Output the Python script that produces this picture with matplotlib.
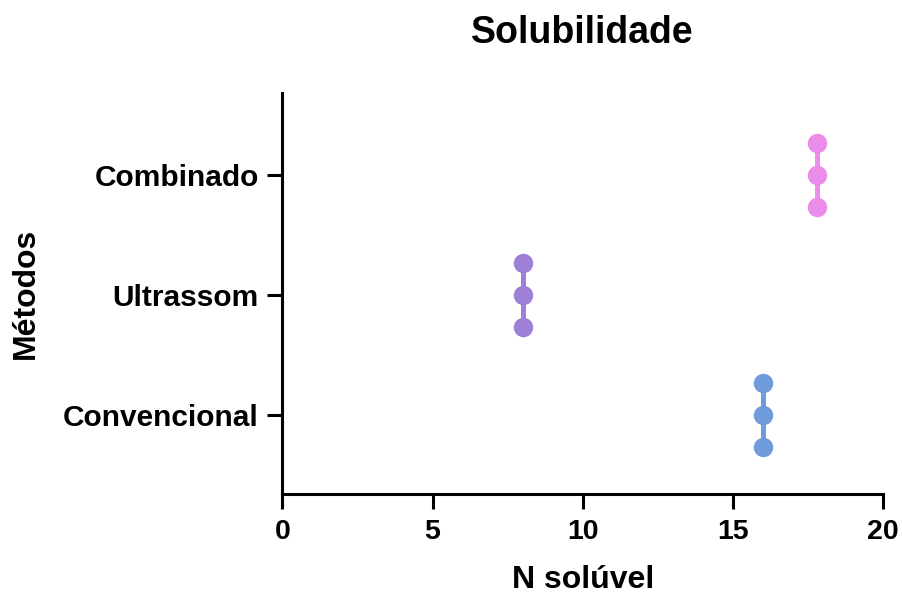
import matplotlib.pyplot as plt

metodos = ["Convencional", "Ultrassom", "Combinado"]
n_soluvel = [
    [16.0, 16.0, 16.0],
    [8.0, 8.0, 8.0],
    [17.8, 17.8, 17.8],
]
cores = ["#6F9ADB", "#9E7FD8", "#EA8CEA"]
xticks = [0, 5, 10, 15, 20]

plt.rcParams["font.family"] = ["Liberation Sans", "DejaVu Sans"]
plt.rcParams["font.weight"] = "bold"

fig = plt.figure(figsize=(9.02, 5.97), dpi=100)
ax = fig.add_axes([0.3131, 0.1717, 0.6659, 0.6725])

offsets = [-0.267, 0.0, 0.267]
for i, (vals, cor) in enumerate(zip(n_soluvel, cores)):
    ys = [i + o for o in offsets]
    media = sum(vals) / len(vals)
    ax.plot([media, media], [ys[0], ys[-1]], color=cor, lw=3.6, zorder=2)
    ax.plot(vals, ys, "o", color=cor, ms=14, mec="none", zorder=3)

ax.set_xlim(0, 20)
ax.set_ylim(-0.6625, 2.683)
ax.set_xticks(xticks)
ax.set_yticks(range(len(metodos)))
ax.set_yticklabels(metodos, fontsize=21.5, fontweight="bold")
ax.set_xticklabels([str(t) for t in xticks], fontsize=20.5, fontweight="bold")

for s in ["top", "right"]:
    ax.spines[s].set_visible(False)
for s in ["left", "bottom"]:
    ax.spines[s].set_linewidth(2.2)
ax.tick_params(axis="both", width=2.2, length=11, color="black")
ax.tick_params(axis="y", pad=6)
ax.tick_params(axis="x", pad=7)

ax.set_title("Solubilidade", fontsize=27, fontweight="bold", pad=36)
ax.set_xlabel("N solúvel", fontsize=23, fontweight="bold", labelpad=14)
ax.set_ylabel("Métodos", fontsize=23, fontweight="bold", labelpad=16)

fig.savefig("out.png", dpi=100)
